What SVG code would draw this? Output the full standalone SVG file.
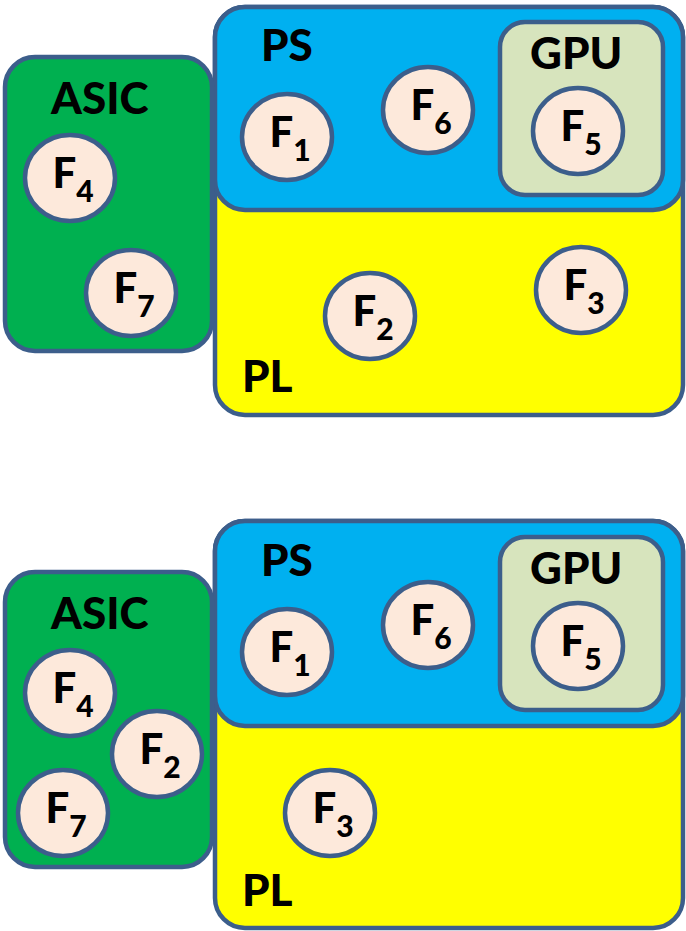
<svg xmlns="http://www.w3.org/2000/svg" width="686" height="931" viewBox="0 0 686 931">
<style>
.box{stroke:#3C5E8B;stroke-width:4.5}
.pl{fill:#FFFF00}
.ps{fill:#00B0F0}
.gpu{fill:#D7E4BD}
.asic{fill:#00B050}
.fn{fill:#FDE9DB;stroke:#3C5E8B;stroke-width:4.5}
.lbl{font-family:Lato,"Open Sans",sans-serif;font-weight:900;font-size:44px;fill:#000}
.f{font-family:Lato,"Open Sans",sans-serif;font-weight:900;font-size:42px;fill:#000;text-anchor:middle}
.sub{font-size:30px}
</style>
<rect width="686" height="931" fill="#fff"/>
<g id="connectors"/>
<!-- Top panel -->
<g id="top-pl"><rect class="box pl" x="215" y="7" width="468" height="408" rx="30"/><text class="lbl" x="242" y="392">PL</text></g>
<g id="top-ps"><rect class="box ps" x="215" y="7" width="468" height="203" rx="30"/><text class="lbl" x="261" y="61">PS</text></g>
<g id="top-gpu"><rect class="box gpu" x="500" y="22" width="163" height="173" rx="25"/><text class="lbl" x="530" y="69">GPU</text></g>
<g id="top-asic"><rect class="box asic" x="5" y="57" width="207" height="294" rx="30"/><text class="lbl" x="51" y="114">ASIC</text></g>
<g id="top-f1"><ellipse class="fn" cx="287" cy="137" rx="45" ry="43"/><text class="f" x="290" y="147">F<tspan class="sub" dy="14">1</tspan></text></g>
<g id="top-f6"><ellipse class="fn" cx="428" cy="110" rx="45" ry="43"/><text class="f" x="431" y="120">F<tspan class="sub" dy="14">6</tspan></text></g>
<g id="top-f5"><ellipse class="fn" cx="578" cy="131" rx="45" ry="43"/><text class="f" x="581" y="141">F<tspan class="sub" dy="14">5</tspan></text></g>
<g id="top-f4"><ellipse class="fn" cx="70" cy="178" rx="45" ry="43"/><text class="f" x="73" y="188">F<tspan class="sub" dy="14">4</tspan></text></g>
<g id="top-f7"><ellipse class="fn" cx="131" cy="293" rx="45" ry="43"/><text class="f" x="134" y="303">F<tspan class="sub" dy="14">7</tspan></text></g>
<g id="top-f2"><ellipse class="fn" cx="370" cy="316" rx="45" ry="43"/><text class="f" x="373" y="326">F<tspan class="sub" dy="14">2</tspan></text></g>
<g id="top-f3"><ellipse class="fn" cx="581" cy="290" rx="45" ry="43"/><text class="f" x="584" y="300">F<tspan class="sub" dy="14">3</tspan></text></g>
<!-- Bottom panel -->
<g id="bot-pl"><rect class="box pl" x="215" y="521" width="468" height="407" rx="30"/><text class="lbl" x="242" y="906">PL</text></g>
<g id="bot-ps"><rect class="box ps" x="215" y="521" width="468" height="205" rx="30"/><text class="lbl" x="261" y="576">PS</text></g>
<g id="bot-gpu"><rect class="box gpu" x="500" y="537" width="163" height="173" rx="25"/><text class="lbl" x="530" y="584">GPU</text></g>
<g id="bot-asic"><rect class="box asic" x="5" y="572" width="207" height="295" rx="30"/><text class="lbl" x="51" y="629">ASIC</text></g>
<g id="bot-f1"><ellipse class="fn" cx="287" cy="652" rx="45" ry="43"/><text class="f" x="290" y="662">F<tspan class="sub" dy="14">1</tspan></text></g>
<g id="bot-f6"><ellipse class="fn" cx="428" cy="625" rx="45" ry="43"/><text class="f" x="431" y="635">F<tspan class="sub" dy="14">6</tspan></text></g>
<g id="bot-f5"><ellipse class="fn" cx="578" cy="646" rx="45" ry="43"/><text class="f" x="581" y="656">F<tspan class="sub" dy="14">5</tspan></text></g>
<g id="bot-f4"><ellipse class="fn" cx="70" cy="693" rx="45" ry="43"/><text class="f" x="73" y="703">F<tspan class="sub" dy="14">4</tspan></text></g>
<g id="bot-f2"><ellipse class="fn" cx="157" cy="754" rx="45" ry="43"/><text class="f" x="160" y="764">F<tspan class="sub" dy="14">2</tspan></text></g>
<g id="bot-f7"><ellipse class="fn" cx="63" cy="813" rx="45" ry="43"/><text class="f" x="66" y="823">F<tspan class="sub" dy="14">7</tspan></text></g>
<g id="bot-f3"><ellipse class="fn" cx="330" cy="813" rx="45" ry="43"/><text class="f" x="333" y="823">F<tspan class="sub" dy="14">3</tspan></text></g>
</svg>
